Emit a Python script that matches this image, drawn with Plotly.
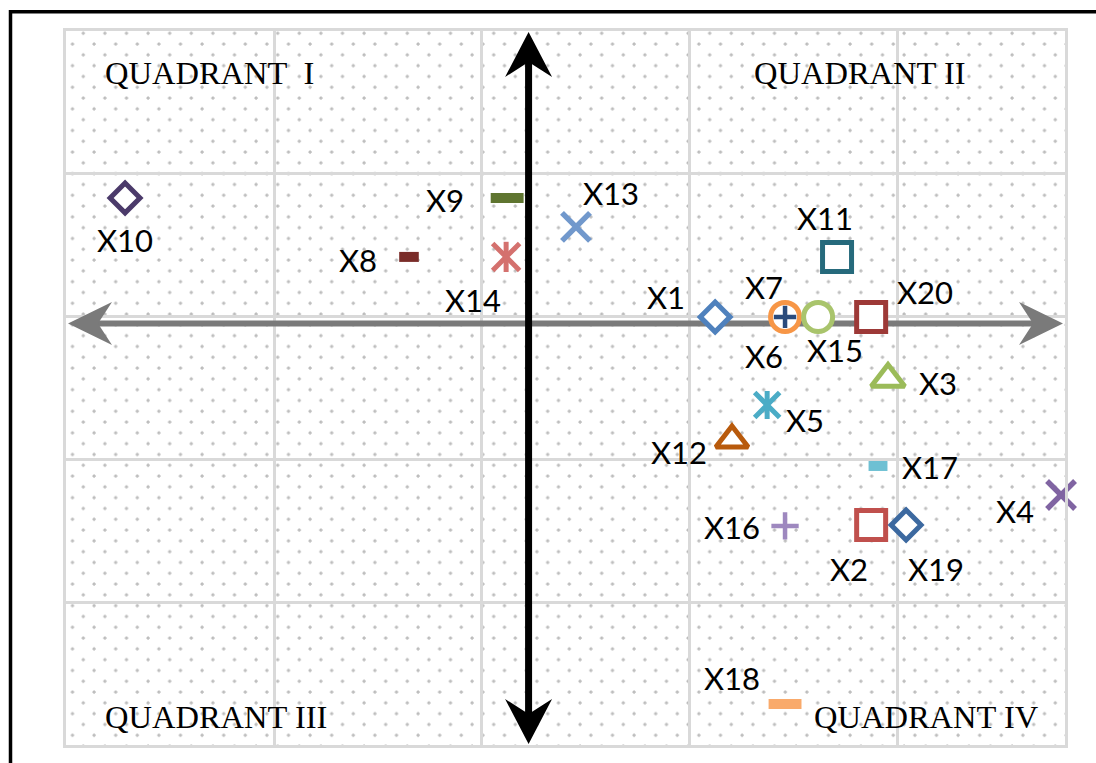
import base64
import plotly.graph_objects as go

# ---------------- data ----------------
names = ["X1", "X2", "X3", "X4", "X5", "X6", "X7", "X8", "X9", "X10",
         "X11", "X12", "X13", "X14", "X15", "X16", "X17", "X18", "X19", "X20"]
x_vals = [0.897, 1.647, 1.728, 2.560, 1.147, 1.233, 1.233, -0.575, -0.103, -1.940,
          1.483, 0.978, 0.228, -0.108, 1.392, 1.233, 1.680, 1.233, 1.815, 1.647]
y_vals = [0.046, -1.411, -0.389, -1.201, -0.571, 0.046, 0.046, 0.466, 0.879, 0.879,
          0.466, -0.816, 0.676, 0.466, 0.046, -1.418, -0.998, -2.665, -1.411, 0.046]
quadrant_labels = ["QUADRANT\u00a0 I", "QUADRANT II", "QUADRANT III", "QUADRANT IV"]

x_range = [-2.224, 2.579]
y_range = [-2.952, 2.048]

# ---------------- styles ----------------
# symbol, color, size
styles = {
    "X1": ("diamond", "#4f81bd", 23),
    "X2": ("square", "#c0504d", 29),
    "X3": ("triangle-up", "#9bbb59", 29),
    "X4": ("x-thin-open", "#8064a2", 28),
    "X5": ("star", "#4bacc6", 25),
    "X6": ("cross-thin-open", "#2a4b7c", 16),
    "X7": ("circle", "#f79646", 29),
    "X8": ("line-ew-open", "#7a2c29", 14),
    "X9": ("line-ew-open", "#5f7530", 23.5),
    "X10": ("diamond", "#4b3a6a", 23),
    "X11": ("square", "#266a7c", 29),
    "X12": ("triangle-up", "#b85a0c", 28),
    "X13": ("x-thin-open", "#7198cc", 28),
    "X14": ("star", "#d4716e", 27),
    "X15": ("circle", "#a9c46c", 29),
    "X16": ("cross-thin-open", "#9e88bf", 19.5),
    "X17": ("line-ew-open", "#6ec0d3", 13.5),
    "X18": ("line-ew-open", "#f9aa6b", 23.5),
    "X19": ("diamond", "#3c69a0", 23),
    "X20": ("square", "#9d3937", 29),
}
# label offsets in pixels (right, down)
label_offsets = {
    "X1": (-49, -20), "X2": (-22, 44), "X3": (50, 4), "X4": (-46, 16),
    "X5": (38, 15), "X6": (-21, 39), "X7": (-21, -30), "X8": (-51, 3),
    "X9": (-62, 2), "X10": (0, 42), "X11": (-12, -39), "X12": (-53, 12),
    "X13": (35, -34), "X14": (-33, 43), "X15": (17, 33), "X16": (-53, 1),
    "X17": (52, 1), "X18": (-53, -26), "X19": (30, 44), "X20": (54, -25),
}

OFF = 8  # page offset of the figure in the browser window
W, H = 1096 - OFF, 763 - OFF
PW, PH = 999, 714
ML, MT = 58, 23
MR, MB = W - ML - PW, H - MT - PH

fig = go.Figure()

fill_syms = {"diamond", "square", "circle", "triangle-up"}
order = [n for n in names if styles[n][0] in fill_syms] + \
        [n for n in names if styles[n][0] not in fill_syms]

for n in order:
    i = names.index(n)
    sym, col, size = styles[n]
    xs, ys = [x_vals[i]], [y_vals[i]]
    if sym in fill_syms:
        fig.add_trace(go.Scatter(x=xs, y=ys, mode="markers", name=n, cliponaxis=False,
                                 marker=dict(symbol=sym, size=size, color="white",
                                             line=dict(color=col, width=5))))
    elif sym == "star":
        fig.add_trace(go.Scatter(x=xs, y=ys, mode="markers", name=n, cliponaxis=False,
                                 marker=dict(symbol="x-thin-open", size=size, color=col,
                                             line=dict(color=col, width=5))))
        fig.add_trace(go.Scatter(x=xs, y=ys, mode="markers", name=n, showlegend=False,
                                 cliponaxis=False,
                                 marker=dict(symbol="line-ns-open", size=size * 0.8, color=col,
                                             line=dict(color=col, width=5))))
    elif sym == "line-ew-open":
        fig.add_trace(go.Scatter(x=xs, y=ys, mode="markers", name=n, cliponaxis=False,
                                 marker=dict(symbol=sym, size=size, color=col,
                                             line=dict(color=col, width=10))))
    else:
        fig.add_trace(go.Scatter(x=xs, y=ys, mode="markers", name=n, cliponaxis=False,
                                 marker=dict(symbol=sym, size=size, color=col,
                                             line=dict(color=col, width=5.5 if "x-thin" in sym else 4.5))))

# data labels
for n, x, y in zip(names, x_vals, y_vals):
    dx, dy = label_offsets[n]
    fig.add_annotation(x=x, y=y, xref="x", yref="y", text=n, showarrow=False,
                       xshift=dx, yshift=-dy, xanchor="center", yanchor="middle",
                       font=dict(family="Lato", size=31, color="black"))

# quadrant labels (screen positions of left edge / cap centre)
quad_pos = [(103, 72.5), (752, 72.5), (103, 716.5), (812, 716.5)]
for txt, (px, py) in zip(quadrant_labels, quad_pos):
    fig.add_annotation(x=(px - OFF - ML) / PW, y=(MT + PH - (py - OFF)) / PH,
                       xref="paper", yref="paper",
                       text=txt, showarrow=False, xanchor="left", yanchor="middle",
                       font=dict(family="Liberation Serif", size=32.5, color="black"))

# axis arrows (drawn between grid and markers)
GRAY = "#7a7a7a"
px_per_x = PW / (x_range[1] - x_range[0])
px_per_y = PH / (y_range[1] - y_range[0])
fig.add_shape(type="line", xref="x", yref="y",
              x0=x_range[0] + 12 / px_per_x, x1=x_range[1] - 12 / px_per_x, y0=0, y1=0,
              line=dict(color=GRAY, width=6), layer="between")
fig.add_shape(type="line", xref="x", yref="y", x0=0, x1=0,
              y0=y_range[0] + 12 / px_per_y, y1=y_range[1] - 12 / px_per_y,
              line=dict(color="black", width=7), layer="between")


def head(xa, ya, path, color):
    fig.add_shape(type="path", xref="x", yref="y", xsizemode="pixel", ysizemode="pixel",
                  xanchor=xa, yanchor=ya, path=path, fillcolor=color,
                  line=dict(width=0), layer="between")


head(0, y_range[1], "M0,-1 L-23.5,-46 L0,-31 L23.5,-46 Z", "black")
head(0, y_range[0], "M0,1 L-23.5,46 L0,31 L23.5,46 Z", "black")
head(x_range[0], 0, "M2,0 L46,21.5 L32,0 L46,-21.5 Z", GRAY)
head(x_range[1], 0, "M-2,0 L-46,21.5 L-32,0 L-46,-21.5 Z", GRAY)

# outer frame (right and bottom edges fall outside the picture)
fig.add_shape(type="rect", xref="paper", yref="paper",
              x0=(10.5 - OFF - ML) / PW, x1=(W + 40 - ML) / PW,
              y0=-(MB + 40) / PH, y1=(MT + PH - (11.7 - OFF)) / PH,
              line=dict(color="black", width=3.5), fillcolor="rgba(0,0,0,0)", layer="above")

# dotted background pattern
tile = 21.6
svg = (f'<svg xmlns="http://www.w3.org/2000/svg" width="{PW}" height="{PH}" '
       f'viewBox="0 0 {PW} {PH}" preserveAspectRatio="none">'
       f'<defs><pattern id="p" x="12.3" y="-2.7" width="{tile}" height="{tile}" '
       f'patternUnits="userSpaceOnUse">'
       f'<circle cx="5" cy="5" r="1.2" fill="#d4d4d4" stroke="#a8a8a8" stroke-width="0.8"/>'
       f'<circle cx="{5 + tile / 2}" cy="{5 + tile / 2}" r="1.2" fill="#d4d4d4" stroke="#a8a8a8" stroke-width="0.8"/>'
       f'</pattern></defs><rect width="{PW}" height="{PH}" fill="url(#p)"/></svg>')
src = "data:image/svg+xml;base64," + base64.b64encode(svg.encode()).decode()
fig.add_layout_image(source=src, xref="paper", yref="paper", x=0, y=1, sizex=1, sizey=1,
                     xanchor="left", yanchor="top", sizing="stretch", layer="below")

fig.update_layout(
    width=W, height=H, showlegend=False,
    margin=dict(l=ML, r=MR, t=MT, b=MB, pad=0),
    paper_bgcolor="white", plot_bgcolor="rgba(0,0,0,0)",
)
fig.update_xaxes(range=x_range, tick0=x_range[0], dtick=1, showgrid=True, gridcolor="#d9d9d9",
                 gridwidth=3, zeroline=False, showticklabels=False, ticks="",
                 showline=True, mirror=True, linecolor="#d9d9d9", linewidth=3)
fig.update_yaxes(range=y_range, tick0=y_range[0], dtick=1, showgrid=True, gridcolor="#d9d9d9",
                 gridwidth=3, zeroline=False, showticklabels=False, ticks="",
                 showline=True, mirror=True, linecolor="#d9d9d9", linewidth=3)

fig.write_html(
    "out.html",
    post_script=("document.body.style.margin='8px 0 0 8px';"
                 "document.body.style.overflow='hidden';"
                 "document.documentElement.style.overflow='hidden';"),
)
